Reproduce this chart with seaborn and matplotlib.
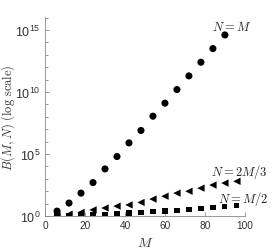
import matplotlib
matplotlib.use("Agg")
import matplotlib.pyplot as plt
import seaborn as sns
import numpy as np
from matplotlib.ticker import FixedLocator, NullFormatter

# values (log10 of B)
m_full = [6, 12, 18, 24, 30, 36, 42, 48, 54, 60, 66, 72, 78, 84, 90]
logb_full = [0.4, 1.05, 1.85, 2.7, 3.8, 4.8, 5.9, 6.9, 8.05, 9.1, 10.2, 11.3, 12.4, 13.5, 14.6]

m_part = [6, 12, 18, 24, 30, 36, 42, 48, 54, 60, 66, 72, 78, 84, 90, 96]
logb_two_thirds = [0.0, 0.15, 0.3, 0.5, 0.65, 0.8, 0.9, 1.1, 1.37, 1.6, 1.85, 2.0, 2.25, 2.5, 2.66, 2.8]
logb_half = [0.0, 0.03, 0.06, 0.1, 0.14, 0.19, 0.24, 0.29, 0.35, 0.41, 0.48, 0.55, 0.62, 0.69, 0.76, 0.83]

labels = [r"$N = M$", r"$N = 2M/3$", r"$N = M/2$"]

sns.set_style("ticks")
plt.rcParams['font.family'] = ['Liberation Sans', 'DejaVu Sans']
plt.rcParams['mathtext.fontset'] = 'cm'

fig = plt.figure(figsize=(2.73, 2.53), dpi=100)
ax = fig.add_axes([0.165, 0.142, 0.732, 0.787])

sns.scatterplot(x=m_full, y=np.power(10.0, logb_full), marker='o', s=26,
                color='black', edgecolor='none', ax=ax)
sns.scatterplot(x=m_part, y=np.power(10.0, logb_two_thirds), marker='<', s=28,
                color='black', edgecolor='none', ax=ax)
sns.scatterplot(x=m_part, y=np.power(10.0, logb_half), marker='s', s=14,
                color='black', edgecolor='none', ax=ax)

ax.set_yscale('log')
ax.set_xlim(0, 100)
ax.set_ylim(1, 10 ** 16.05)
ax.set_xticks([0, 20, 40, 60, 80, 100])
ax.yaxis.set_major_locator(FixedLocator([1, 1e5, 1e10, 1e15]))
ax.yaxis.set_minor_locator(FixedLocator([10.0 ** k for k in range(0, 17)]))
ax.yaxis.set_minor_formatter(NullFormatter())

for s in ['top', 'right']:
    ax.spines[s].set_visible(False)
for s in ['left', 'bottom']:
    ax.spines[s].set_color('#888888')
    ax.spines[s].set_linewidth(0.6)
ax.tick_params(axis='both', which='both', direction='in', colors='#888888',
               labelcolor='#333333', width=0.6)
ax.tick_params(axis='x', labelsize=7.3, pad=3)
ax.tick_params(axis='y', labelsize=9, pad=3)
ax.tick_params(which='major', length=3)
ax.tick_params(which='minor', length=2)

ax.set_xlabel(r"$M$", fontsize=10, color='#333333')
ax.xaxis.set_label_coords(0.5, -0.095)
ax.set_ylabel(r"$B(M,N)\ \mathrm{(log\ scale)}$", fontsize=9, color='#333333')
ax.yaxis.set_label_coords(-0.14, 0.5)

ax.text(93.5, 10 ** 15.3, labels[0], fontsize=9, ha='center', va='center',
        color='#222222', clip_on=False)
ax.text(111.5, 10 ** 3.6, labels[1], fontsize=9, ha='right', va='center',
        color='#222222', clip_on=False)
ax.text(111.5, 10 ** 1.45, labels[2], fontsize=9, ha='right', va='center',
        color='#222222', clip_on=False)

fig.savefig("out.png", dpi=100)
